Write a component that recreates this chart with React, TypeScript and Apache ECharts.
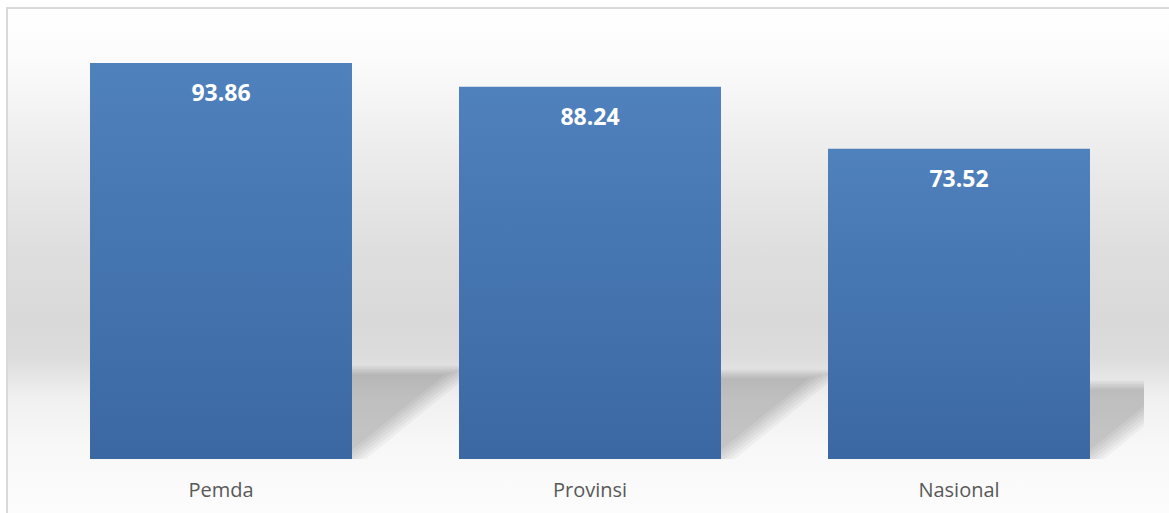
import React, { useEffect, useRef } from "react";
import * as echarts from "echarts";

const categories = ["Pemda", "Provinsi", "Nasional"];
const values = [93.86, 88.24, 73.52];

export default function App() {
  const ref = useRef<HTMLDivElement>(null);
  useEffect(() => {
    if (!ref.current) return;
    const chart = echarts.init(ref.current, null, { renderer: "svg" });
    const font = "'Open Sans', 'Noto Sans', sans-serif";
    const layers = [7, 4.5, 2, -0.5, -3, -5.5];
    chart.setOption({
      animation: false,
      graphic: [
        {
          type: "rect",
          z: -10,
          silent: true,
          shape: { x: 7, y: 8, width: 1180, height: 520 },
          style: {
            stroke: "#d9d9d9",
            lineWidth: 2,
            fill: {
              type: "linear",
              x: 0,
              y: 0,
              x2: 0,
              y2: 1,
              colorStops: [
                { offset: 0, color: "#ffffff" },
                { offset: 0.1, color: "#fbfbfb" },
                { offset: 0.28, color: "#ececec" },
                { offset: 0.47, color: "#dedede" },
                { offset: 0.6, color: "#d9d9d9" },
                { offset: 0.67, color: "#dcdcdc" },
                { offset: 0.71, color: "#e6e6e6" },
                { offset: 0.75, color: "#f0f0f0" },
                { offset: 0.85, color: "#f8f8f8" },
                { offset: 1, color: "#fdfdfd" },
              ],
            },
          },
        },
      ],
      grid: { left: 36.5, right: 25.5, top: 37, bottom: 54, containLabel: false },
      xAxis: {
        type: "category",
        data: categories,
        axisLine: { show: false },
        axisTick: { show: false },
        axisLabel: { color: "#595959", fontSize: 20, fontFamily: font, margin: 20 },
      },
      yAxis: { type: "value", min: 0, max: 100, show: false, splitLine: { show: false } },
      series: [
        {
          type: "custom",
          z: 1,
          clip: true,
          silent: true,
          data: values.map((v, i) => [i, v]),
          encode: { x: 0, y: 1 },
          renderItem: (params: any, api: any) => {
            const idx = api.value(0);
            const v = api.value(1);
            const base = api.coord([idx, 0]);
            const top = api.coord([idx, v]);
            const band = api.size([1, 0])[0];
            const bw = band * 0.71;
            const xL = base[0] - bw / 2;
            const xR = base[0] + bw / 2;
            const y0 = base[1];
            const H = y0 - top[1];
            const h = 21 + 0.176 * H;
            const dx = 1.2 * h;
            const yt = y0 - h + 2;
            const children = layers.map((o) => {
              const s = o * 2.0;
              const ty = yt - o * 0.7;
              return {
                type: "polygon",
                shape: {
                  points: [
                    [xL, y0],
                    [xR + s, y0],
                    [xR + dx + s - (ty - yt) * 1.2, ty],
                    [xL + dx, ty],
                  ],
                },
                style: { fill: "rgba(0,0,0,0.036)" },
              };
            });
            return { type: "group", children };
          },
        },
        {
          type: "bar",
          z: 2,
          data: values,
          barCategoryGap: "29%",
          itemStyle: {
            color: {
              type: "linear",
              x: 0,
              y: 0,
              x2: 0,
              y2: 1,
              colorStops: [
                { offset: 0, color: "#4f81bd" },
                { offset: 1, color: "#3b68a2" },
              ],
            },
          },
          label: {
            show: true,
            position: "insideTop",
            distance: 18,
            color: "#ffffff",
            fontWeight: "bold",
            fontSize: 23,
            fontFamily: font,
            formatter: (p: any) => p.value.toFixed(2),
          },
        },
      ],
    });
    return () => chart.dispose();
  }, []);
  return (
    <div
      ref={ref}
      style={{ position: "fixed", left: 0, top: 0, width: 1169, height: 513, background: "#ffffff" }}
    />
  );
}
